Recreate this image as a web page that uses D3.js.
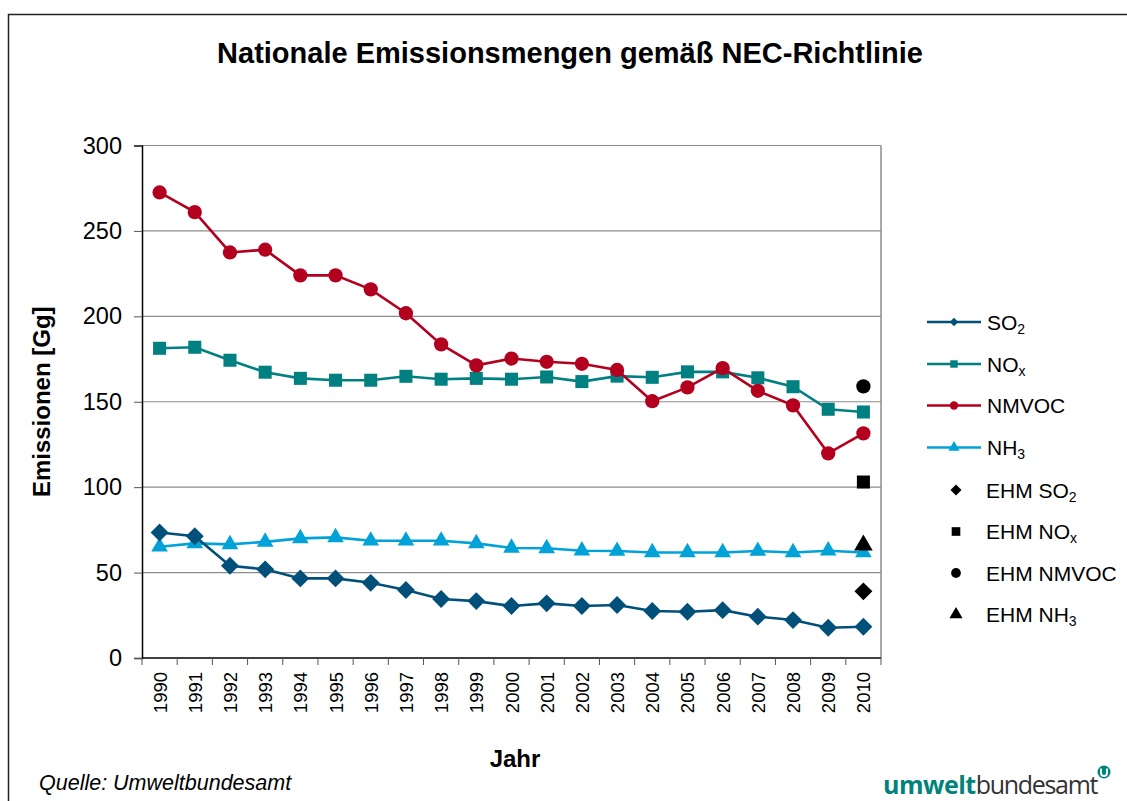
<!DOCTYPE html>
<html>
<head>
<meta charset="utf-8">
<script src="https://cdn.jsdelivr.net/npm/d3@7"></script>
<style>
  body { margin: 0; background: #fff; }
  text { font-family: "Liberation Sans", Arial, sans-serif; fill: #000; }
</style>
</head>
<body>
<div id="chart"></div>
<script>
// data (Gg)
const years = d3.range(1990, 2011).map(String);
const so2   = [73.5, 71.3, 54, 51.9, 46.6, 46.6, 44, 39.8, 34.5, 33.3, 30.4, 32, 30.4, 31, 27.5, 27.1, 28, 24.2, 22.2, 17.7, 18.3];
const nox   = [181.3, 181.9, 174.3, 167.3, 163.7, 162.6, 162.6, 164.9, 163.2, 163.7, 163.2, 164.5, 161.8, 165, 164.3, 167.5, 167.5, 164, 158.8, 145.6, 144];
const nmvoc = [272.5, 261, 237.4, 239, 224, 224, 215.8, 201.8, 183.6, 171.3, 175.3, 173.4, 172.2, 168.6, 150.3, 158.4, 169.7, 156.4, 147.9, 119.8, 131.5];
const nh3   = [65.1, 67.1, 66.5, 68, 70, 70.6, 68.6, 68.6, 68.6, 67.1, 64.4, 64.2, 62.8, 62.6, 61.8, 61.8, 61.8, 62.6, 61.8, 62.8, 61.8];
// Emissionshöchstmengen (EHM) 2010
const ehmNames  = ['SO2', 'NOx', 'NMVOC', 'NH3'];
const ehmValues = [39, 103, 159, 66];
const yTicks = [0, 50, 100, 150, 200, 250, 300];

const W = 1127, H = 801;
const margin = { left: 142, right: 881, top: 145.5, bottom: 658 };

const svg = d3.select('#chart').append('svg')
    .attr('width', W)
    .attr('height', H);

// outer frame (only top/left visible)
svg.append('rect')
    .attr('x', 8.5).attr('y', 14.5)
    .attr('width', W + 20).attr('height', H + 20)
    .attr('fill', 'none').attr('stroke', '#222').attr('stroke-width', 1.5);

const x = d3.scaleBand().domain(years).range([margin.left, margin.right]);
const y = d3.scaleLinear().domain([0, 300]).range([margin.bottom, margin.top]);
const cx = d => x(d) + x.bandwidth() / 2;

// gridlines
svg.append('g').selectAll('line')
    .data(yTicks.filter(t => t > 0))
    .join('line')
    .attr('x1', margin.left).attr('x2', margin.right)
    .attr('y1', d => y(d)).attr('y2', d => y(d))
    .attr('stroke', '#8c8c8c').attr('stroke-width', 1.2);

// right border of plot area
svg.append('line')
    .attr('x1', margin.right).attr('x2', margin.right)
    .attr('y1', margin.top).attr('y2', margin.bottom)
    .attr('stroke', '#8c8c8c').attr('stroke-width', 1.5);

// y axis
const yAxis = svg.append('g')
    .attr('transform', `translate(${margin.left},0)`)
    .call(d3.axisLeft(y).tickValues(yTicks).tickSize(8).tickPadding(12));
yAxis.select('.domain').attr('stroke', '#000').attr('stroke-width', 1.5);
yAxis.selectAll('.tick line').attr('stroke', '#555');
yAxis.selectAll('.tick text').attr('font-size', 23.5).attr('font-family', '"Liberation Sans", Arial, sans-serif').attr('fill', '#000');

// x axis: ticks on band boundaries
const xg = svg.append('g').attr('transform', `translate(0,${margin.bottom})`);
xg.append('line')
    .attr('x1', margin.left).attr('x2', margin.right)
    .attr('stroke', '#000').attr('stroke-width', 1.5);
xg.selectAll('.tk')
    .data(years.concat(['end']))
    .join('line')
    .attr('class', 'tk')
    .attr('x1', d => d === 'end' ? margin.right : x(d))
    .attr('x2', d => d === 'end' ? margin.right : x(d))
    .attr('y1', 0).attr('y2', 7)
    .attr('stroke', '#555');
xg.selectAll('.lbl')
    .data(years)
    .join('text')
    .attr('class', 'lbl')
    .attr('transform', d => `translate(${cx(d) + 7},14) rotate(-90)`)
    .attr('text-anchor', 'end')
    .attr('font-size', 18.5)
    .text(d => d);

// series
const series = [
    { name: 'SO', sub: '2', values: so2, color: '#00507a', shape: d3.symbolSquare, rot: 45, size: 160 },
    { name: 'NO', sub: 'x', values: nox, color: '#008080', shape: d3.symbolSquare, rot: 0, size: 170 },
    { name: 'NMVOC', sub: '', values: nmvoc, color: '#b3001f', shape: d3.symbolCircle, rot: 0, size: 160 },
    { name: 'NH', sub: '3', values: nh3, color: '#00a2d8', shape: d3.symbolTriangle, rot: 0, size: 120 }
];

const line = d3.line()
    .x((d, i) => cx(years[i]))
    .y(d => y(d));

const drawOrder = [3, 1, 2, 0];
drawOrder.forEach(k => {
    const s = series[k];
    const g = svg.append('g');
    g.append('path')
        .datum(s.values)
        .attr('d', line)
        .attr('fill', 'none')
        .attr('stroke', s.color)
        .attr('stroke-width', 2.6);
    g.selectAll('path.m')
        .data(s.values)
        .join('path')
        .attr('class', 'm')
        .attr('transform', (d, i) => `translate(${cx(years[i])},${y(d)}) rotate(${s.rot})`)
        .attr('d', d3.symbol(s.shape, s.size))
        .attr('fill', s.color);
});

// EHM markers (black) at 2010
const ehmShapes = [d3.symbolSquare, d3.symbolSquare, d3.symbolCircle, d3.symbolTriangle];
const ehmRot = [45, 0, 0, 0];
const ehmSizes = [160, 170, 160, 150];
svg.append('g').selectAll('path')
    .data(ehmValues)
    .join('path')
    .attr('transform', (d, i) => `translate(${cx('2010')},${y(d)}) rotate(${ehmRot[i]})`)
    .attr('d', (d, i) => d3.symbol(ehmShapes[i], ehmSizes[i])())
    .attr('fill', '#000');

// legend
const legendY = [322, 364, 405.5, 447.5, 490, 531.5, 573, 614.5];
const leg = svg.append('g');
series.forEach((s, i) => {
    const ly = legendY[i];
    leg.append('line')
        .attr('x1', 927).attr('x2', 981).attr('y1', ly).attr('y2', ly)
        .attr('stroke', s.color).attr('stroke-width', 2.5);
    leg.append('path')
        .attr('transform', `translate(954,${ly}) rotate(${s.rot})`)
        .attr('d', d3.symbol(s.shape, s.rot ? 36 : 55)())
        .attr('fill', s.color);
    const t = leg.append('text').attr('x', 987).attr('y', ly + 7.5).attr('font-size', 21);
    t.append('tspan').text(s.name);
    if (s.sub) t.append('tspan').attr('font-size', 14).attr('dy', 4).text(s.sub);
});
ehmNames.forEach((n, i) => {
    const ly = legendY[4 + i];
    leg.append('path')
        .attr('transform', `translate(956,${ly}) rotate(${ehmRot[i]})`)
        .attr('d', d3.symbol(ehmShapes[i], i === 0 ? 60 : 75)())
        .attr('fill', '#000');
    const s = series[i];
    const t = leg.append('text').attr('x', 986).attr('y', ly + 7.5).attr('font-size', 21);
    t.append('tspan').text('EHM ' + s.name);
    if (s.sub) t.append('tspan').attr('font-size', 14).attr('dy', 4).text(s.sub);
});

// titles
svg.append('text')
    .attr('x', 570).attr('y', 63)
    .attr('text-anchor', 'middle')
    .attr('font-size', 29).attr('font-weight', 'bold')
    .text('Nationale Emissionsmengen gemäß NEC-Richtlinie');

svg.append('text')
    .attr('transform', `translate(50,${(margin.top + margin.bottom) / 2}) rotate(-90)`)
    .attr('text-anchor', 'middle')
    .attr('font-size', 24).attr('font-weight', 'bold')
    .text('Emissionen [Gg]');

svg.append('text')
    .attr('x', 515).attr('y', 767)
    .attr('text-anchor', 'middle')
    .attr('font-size', 24).attr('font-weight', 'bold')
    .text('Jahr');

svg.append('text')
    .attr('x', 39).attr('y', 790)
    .attr('font-size', 21.5).attr('font-style', 'italic')
    .text('Quelle: Umweltbundesamt');

// logo
const logo = svg.append('text')
    .attr('x', 883).attr('y', 794)
    .attr('font-size', 25)
    .style('font-family', '"Open Sans", sans-serif');
logo.append('tspan').attr('font-weight', 'bold').attr('fill', '#00837a').attr('letter-spacing', -0.5).text('umwelt');
logo.append('tspan').attr('fill', '#333').attr('letter-spacing', -1.3).text('bundesamt');
svg.append('circle').attr('cx', 1104).attr('cy', 772).attr('r', 6.5).attr('fill', '#00837a');
svg.append('path')
    .attr('d', 'M1101,768.5 V773 A3,3 0 0 0 1107,773 V768.5')
    .attr('fill', 'none').attr('stroke', '#fff').attr('stroke-width', 1.8);
</script>
</body>
</html>
